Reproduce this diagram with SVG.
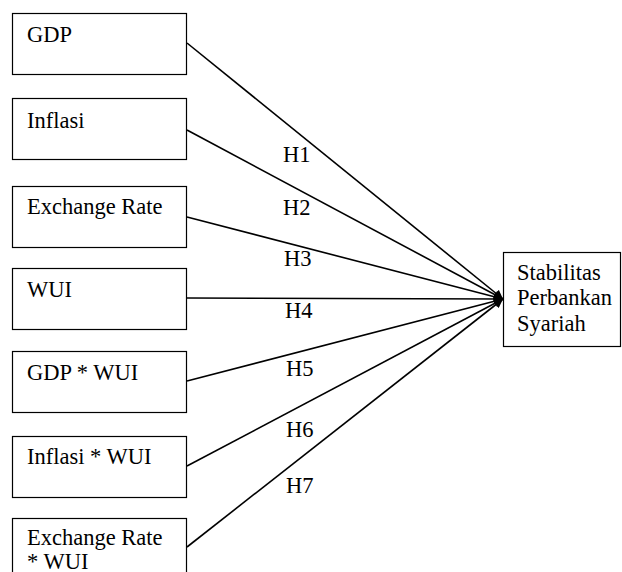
<svg xmlns="http://www.w3.org/2000/svg" width="622" height="572" viewBox="0 0 622 572">
<defs>
<style>
.box{fill:#fff;stroke:#000;stroke-width:1.2}
.t{font-family:'Liberation Serif','DejaVu Serif',serif;font-size:22.5px;fill:#000}
.ln{stroke:#000;stroke-width:1.6;fill:none;marker-end:url(#ah)}
</style>
<marker id="ah" viewBox="0 0 10 10" refX="10" refY="5" markerWidth="10" markerHeight="9" markerUnits="userSpaceOnUse" orient="auto">
<path d="M0,0 L10,5 L0,10 z" fill="#000"/>
</marker>
</defs>
<rect width="622" height="572" fill="#fff"/>
<g id="connectors">
<line class="ln" x1="187" y1="43" x2="503" y2="299"/>
<line class="ln" x1="187" y1="130" x2="503" y2="299"/>
<line class="ln" x1="187" y1="217" x2="503" y2="299"/>
<line class="ln" x1="187" y1="298" x2="503" y2="299"/>
<line class="ln" x1="187" y1="381" x2="503" y2="299"/>
<line class="ln" x1="187" y1="466" x2="503" y2="299"/>
<line class="ln" x1="187" y1="547" x2="503" y2="299"/>
<text class="t" x="283" y="162">H1</text>
<text class="t" x="283" y="215">H2</text>
<text class="t" x="284" y="266">H3</text>
<text class="t" x="285" y="318">H4</text>
<text class="t" x="286" y="376">H5</text>
<text class="t" x="286" y="437">H6</text>
<text class="t" x="286" y="493">H7</text>
</g>
<g id="gdp"><rect class="box" x="12.5" y="13.5" width="174" height="61"/><text class="t" x="27" y="42">GDP</text></g>
<g id="inflasi"><rect class="box" x="12.5" y="98.5" width="174" height="61"/><text class="t" x="27" y="128">Inflasi</text></g>
<g id="exchange"><rect class="box" x="12.5" y="186.5" width="174" height="61"/><text class="t" x="27" y="214">Exchange Rate</text></g>
<g id="wui"><rect class="box" x="12.5" y="268.5" width="174" height="61"/><text class="t" x="27" y="297">WUI</text></g>
<g id="gdp-wui"><rect class="box" x="12.5" y="351.5" width="174" height="61"/><text class="t" x="27" y="380">GDP * WUI</text></g>
<g id="inflasi-wui"><rect class="box" x="12.5" y="436.5" width="174" height="61"/><text class="t" x="27" y="464">Inflasi * WUI</text></g>
<g id="exchange-wui"><rect class="box" x="12.5" y="518.5" width="174" height="61"/><text class="t" x="27" y="545">Exchange Rate</text><text class="t" x="27" y="569">* WUI</text></g>
<g id="stabilitas"><rect class="box" x="503.5" y="252.5" width="117" height="94"/><text class="t" x="517" y="280">Stabilitas</text><text class="t" x="517" y="305">Perbankan</text><text class="t" x="517" y="331">Syariah</text></g>
</svg>
